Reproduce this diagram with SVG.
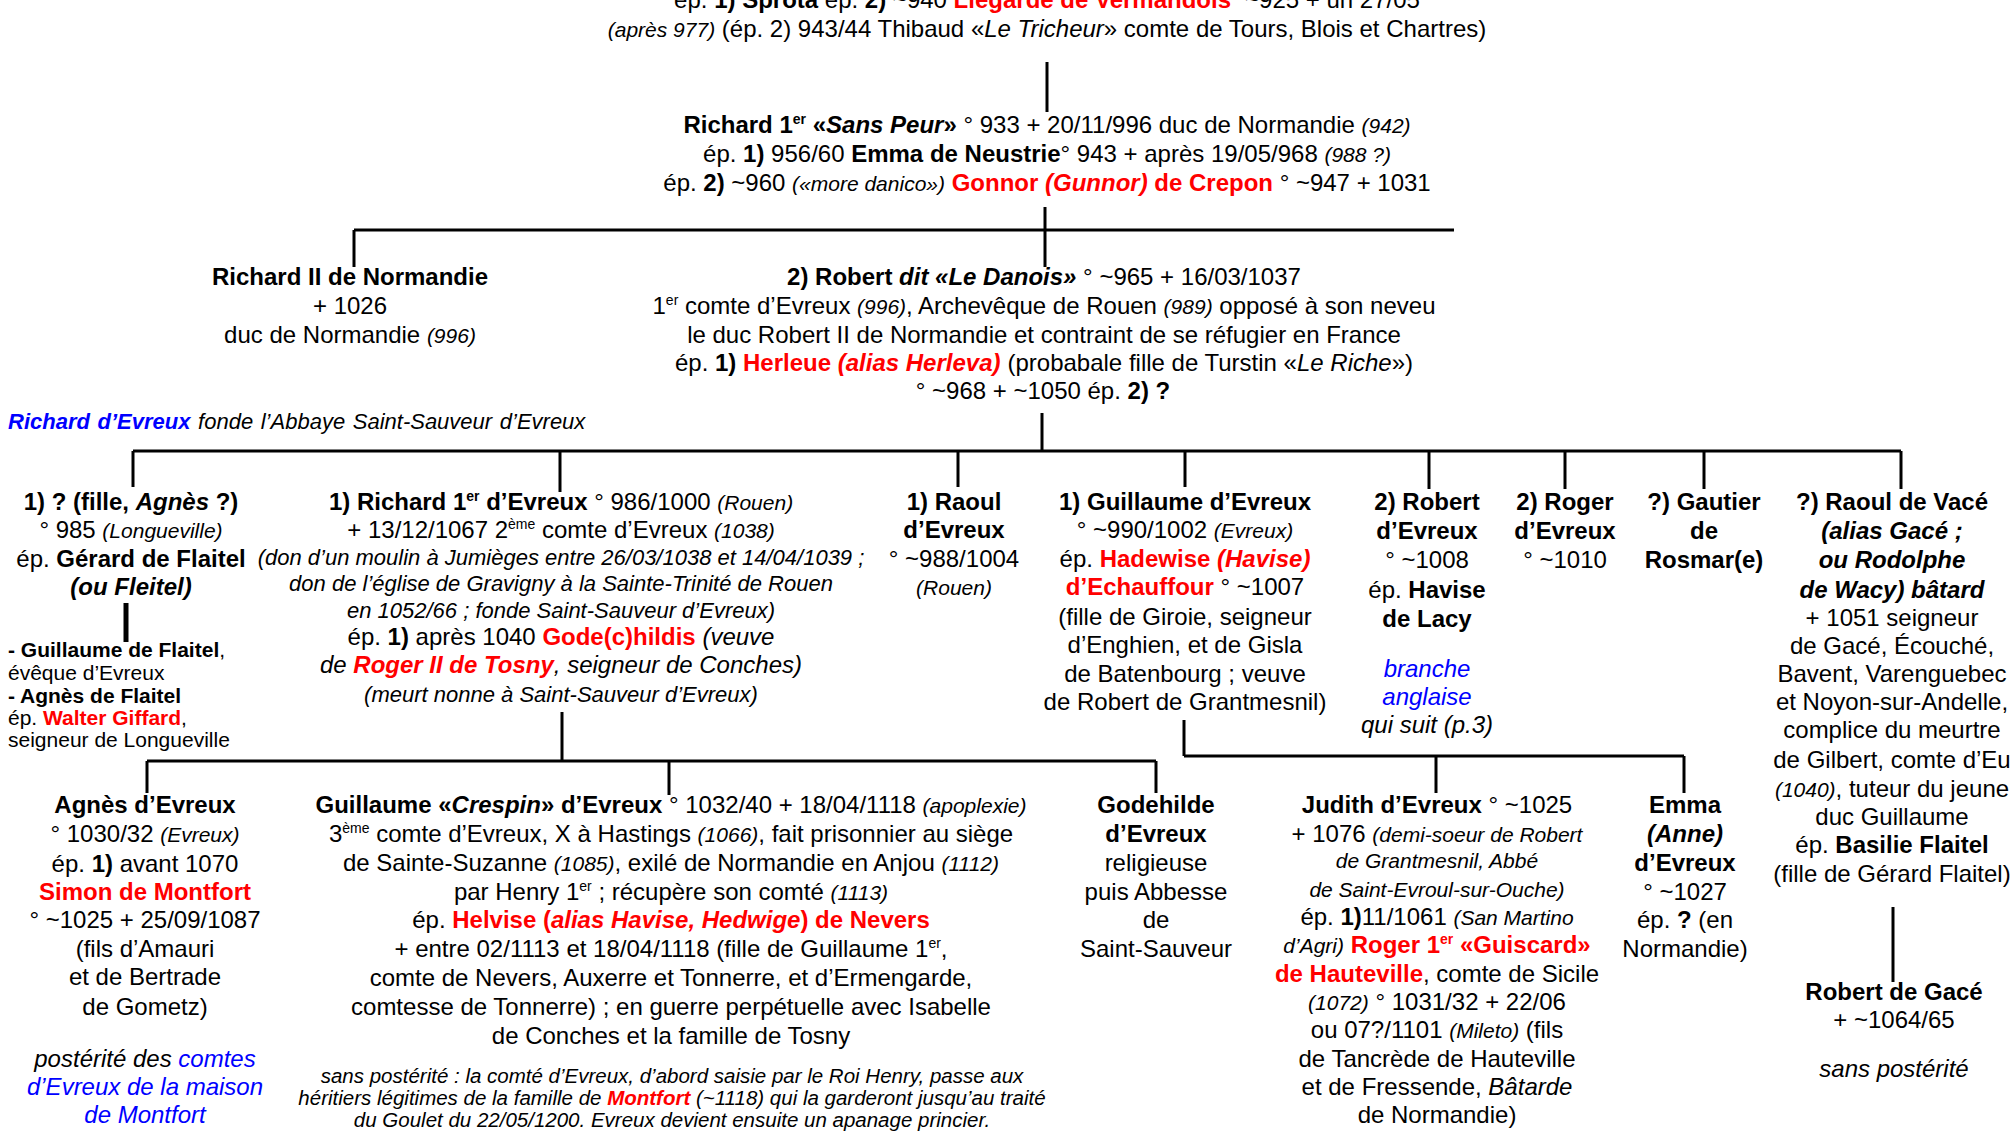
<svg xmlns="http://www.w3.org/2000/svg" width="2016" height="1134" viewBox="0 0 2016 1134">
<style>
text { font-family: "Liberation Sans", Arial, sans-serif; font-size: 24px; fill: #000; }
.m { text-anchor: middle; }
.b { font-weight: bold; }
.i { font-style: italic; }
.r { fill: #ff0000; }
.u { fill: #0000ff; }
.s { font-size: 21px; }
.x { font-size: 22px; }
.n { font-size: 20.5px; }
.p { font-size: 14px; }
.conn line { stroke: #000; stroke-width: 3; fill: none; }
</style>
<rect width="2016" height="1134" fill="#fff"/>

<g id="connectors" class="conn">
  <line x1="1047" y1="62" x2="1047" y2="112"/>
  <line x1="1045" y1="207" x2="1045" y2="267"/>
  <line x1="354" y1="230" x2="1454" y2="230"/>
  <line x1="354" y1="230" x2="354" y2="267"/>
  <line x1="1042" y1="413" x2="1042" y2="452"/>
  <line x1="133" y1="451" x2="1901" y2="451"/>
  <line x1="133" y1="451" x2="133" y2="487"/>
  <line x1="560" y1="451" x2="560" y2="492"/>
  <line x1="958" y1="451" x2="958" y2="487"/>
  <line x1="1185" y1="451" x2="1185" y2="487"/>
  <line x1="1429" y1="451" x2="1429" y2="489"/>
  <line x1="1565" y1="451" x2="1565" y2="489"/>
  <line x1="1704" y1="451" x2="1704" y2="489"/>
  <line x1="1901" y1="451" x2="1901" y2="489"/>
  <line x1="126" y1="603" x2="126" y2="642" style="stroke-width:5"/>
  <line x1="562" y1="712" x2="562" y2="761"/>
  <line x1="147" y1="761" x2="1156" y2="761"/>
  <line x1="147" y1="761" x2="147" y2="793"/>
  <line x1="669" y1="761" x2="669" y2="795"/>
  <line x1="1156" y1="761" x2="1156" y2="793"/>
  <line x1="1184" y1="720" x2="1184" y2="756"/>
  <line x1="1184" y1="756" x2="1684" y2="756"/>
  <line x1="1436" y1="756" x2="1436" y2="793"/>
  <line x1="1684" y1="756" x2="1684" y2="793"/>
  <line x1="1893" y1="907" x2="1893" y2="982"/>
</g>

<g id="parents-top">
  <text class="m" x="1047" y="8">ép. <tspan class="b">1) Sprota</tspan> ép. <tspan class="b">2)</tspan> ~940 <tspan class="b r">Liégarde de Vermandois</tspan><tspan dx="14">~925 + un 27/05</tspan></text>
  <text class="m" x="1047" y="37"><tspan class="i s">(après 977)</tspan> (ép. 2) 943/44 Thibaud «<tspan class="i">Le Tricheur</tspan>» comte de Tours, Blois et Chartres)</text>
</g>

<g id="richard1">
  <text class="m" x="1047" y="133"><tspan class="b">Richard 1<tspan class="p" dy="-9">er</tspan><tspan dy="9"> «</tspan><tspan class="i">Sans Peur</tspan>»</tspan> ° 933 + 20/11/996 duc de Normandie <tspan class="i s">(942)</tspan></text>
  <text class="m" x="1047" y="162">ép. <tspan class="b">1)</tspan> 956/60 <tspan class="b">Emma de Neustrie</tspan>° 943 + après 19/05/968 <tspan class="i s">(988 ?)</tspan></text>
  <text class="m" x="1047" y="191">ép. <tspan class="b">2)</tspan> ~960 <tspan class="i s">(«more danico»)</tspan> <tspan class="b r">Gonnor <tspan class="i">(Gunnor)</tspan> de Crepon</tspan> ° ~947 + 1031</text>
</g>

<g id="richard2">
  <text class="m b" x="350" y="285">Richard II de Normandie</text>
  <text class="m" x="350" y="314">+ 1026</text>
  <text class="m" x="350" y="343">duc de Normandie <tspan class="i s">(996)</tspan></text>
</g>

<g id="robert-danois">
  <text class="m" x="1044" y="285"><tspan class="b">2) Robert <tspan class="i">dit «Le Danois»</tspan></tspan> ° ~965 + 16/03/1037</text>
  <text class="m" x="1044" y="314">1<tspan class="p" dy="-9">er</tspan><tspan dy="9"> comte d’Evreux </tspan><tspan class="i s">(996)</tspan>, Archevêque de Rouen <tspan class="i s">(989)</tspan> opposé à son neveu</text>
  <text class="m" x="1044" y="343">le duc Robert II de Normandie et contraint de se réfugier en France</text>
  <text class="m" x="1044" y="371">ép. <tspan class="b">1)</tspan> <tspan class="b r">Herleue <tspan class="i">(alias Herleva)</tspan></tspan><tspan dx="7">(probabale fille de Turstin «</tspan><tspan class="i">Le Riche</tspan>»)</text>
  <text class="m" x="1043" y="399">° ~968 + ~1050 ép. <tspan class="b">2) ?</tspan></text>
</g>

<g id="note-abbaye">
  <text x="8" y="429" class="i" style="font-size:22px;word-spacing:1.5px"><tspan class="b u">Richard d’Evreux</tspan> fonde l’Abbaye Saint-Sauveur d’Evreux</text>
</g>

<g id="fille-agnes">
  <text class="m b" x="131" y="510">1) ? (fille, <tspan class="i">Agnès</tspan> ?)</text>
  <text class="m" x="131" y="538">° 985 <tspan class="i s">(Longueville)</tspan></text>
  <text class="m" x="131" y="567">ép. <tspan class="b">Gérard de Flaitel</tspan></text>
  <text class="m b i" x="131" y="595">(ou Fleitel)</text>
  <text x="8" y="657" style="font-size:21px"><tspan class="b">- Guillaume de Flaitel</tspan>,</text>
  <text x="8" y="680" style="font-size:21px">évêque d’Evreux</text>
  <text x="8" y="703" style="font-size:21px" class="b">- Agnès de Flaitel</text>
  <text x="8" y="725" style="font-size:21px">ép. <tspan class="b r">Walter Giffard</tspan>,</text>
  <text x="8" y="747" style="font-size:21px">seigneur de Longueville</text>
</g>

<g id="richard-evreux">
  <text class="m" x="561" y="510"><tspan class="b">1) Richard 1<tspan class="p" dy="-9">er</tspan><tspan dy="9"> d’Evreux</tspan></tspan> ° 986/1000 <tspan class="i s">(Rouen)</tspan></text>
  <text class="m" x="561" y="538">+ 13/12/1067 2<tspan class="p" dy="-9">ème</tspan><tspan dy="9"> comte d’Evreux </tspan><tspan class="i s">(1038)</tspan></text>
  <text class="m i x" x="561" y="565">(don d’un moulin à Jumièges entre 26/03/1038 et 14/04/1039 ;</text>
  <text class="m i x" x="561" y="591">don de l’église de Gravigny à la Sainte-Trinité de Rouen</text>
  <text class="m i x" x="561" y="618">en 1052/66 ; fonde Saint-Sauveur d’Evreux)</text>
  <text class="m" x="561" y="645">ép. <tspan class="b">1)</tspan> après 1040 <tspan class="b r">Gode(c)hildis</tspan> <tspan class="i">(veuve</tspan></text>
  <text class="m i" x="561" y="673">de <tspan class="b r">Roger II de Tosny</tspan>, seigneur de Conches)</text>
  <text class="m i x" x="561" y="702">(meurt nonne à Saint-Sauveur d’Evreux)</text>
</g>

<g id="raoul-evreux">
  <text class="m b" x="954" y="510">1) Raoul</text>
  <text class="m b" x="954" y="538">d’Evreux</text>
  <text class="m" x="954" y="567">° ~988/1004</text>
  <text class="m i s" x="954" y="595">(Rouen)</text>
</g>

<g id="guillaume-evreux">
  <text class="m b" x="1185" y="510">1) Guillaume d’Evreux</text>
  <text class="m" x="1185" y="538">° ~990/1002 <tspan class="i s">(Evreux)</tspan></text>
  <text class="m" x="1185" y="567">ép. <tspan class="b r">Hadewise <tspan class="i">(Havise)</tspan></tspan></text>
  <text class="m" x="1185" y="595"><tspan class="b r">d’Echauffour</tspan> ° ~1007</text>
  <text class="m" x="1185" y="625">(fille de Giroie, seigneur</text>
  <text class="m" x="1185" y="653">d’Enghien, et de Gisla</text>
  <text class="m" x="1185" y="682">de Batenbourg ; veuve</text>
  <text class="m" x="1185" y="710">de Robert de Grantmesnil)</text>
</g>

<g id="robert-evreux">
  <text class="m b" x="1427" y="510">2) Robert</text>
  <text class="m b" x="1427" y="539">d’Evreux</text>
  <text class="m" x="1427" y="568">° ~1008</text>
  <text class="m" x="1427" y="598">ép. <tspan class="b">Havise</tspan></text>
  <text class="m b" x="1427" y="627">de Lacy</text>
  <text class="m i u" x="1427" y="677">branche</text>
  <text class="m i u" x="1427" y="705">anglaise</text>
  <text class="m i" x="1427" y="733">qui suit (p.3)</text>
</g>

<g id="roger-evreux">
  <text class="m b" x="1565" y="510">2) Roger</text>
  <text class="m b" x="1565" y="539">d’Evreux</text>
  <text class="m" x="1565" y="568">° ~1010</text>
</g>

<g id="gautier">
  <text class="m b" x="1704" y="510">?) Gautier</text>
  <text class="m b" x="1704" y="539">de</text>
  <text class="m b" x="1704" y="568">Rosmar(e)</text>
</g>

<g id="raoul-vace">
  <text class="m b" x="1892" y="510">?) Raoul de Vacé</text>
  <text class="m b i" x="1892" y="539">(alias Gacé ;</text>
  <text class="m b i" x="1892" y="568">ou Rodolphe</text>
  <text class="m b i" x="1892" y="598">de Wacy) bâtard</text>
  <text class="m" x="1892" y="626">+ 1051 seigneur</text>
  <text class="m" x="1892" y="654">de Gacé, Écouché,</text>
  <text class="m" x="1892" y="682">Bavent, Varenguebec</text>
  <text class="m" x="1892" y="710">et Noyon-sur-Andelle,</text>
  <text class="m" x="1892" y="738">complice du meurtre</text>
  <text class="m" x="1892" y="768">de Gilbert, comte d’Eu</text>
  <text class="m" x="1892" y="797"><tspan class="i s">(1040)</tspan>, tuteur du jeune</text>
  <text class="m" x="1892" y="825">duc Guillaume</text>
  <text class="m" x="1892" y="853">ép. <tspan class="b">Basilie Flaitel</tspan></text>
  <text class="m" x="1892" y="882">(fille de Gérard Flaitel)</text>
</g>

<g id="robert-gace">
  <text class="m b" x="1894" y="1000">Robert de Gacé</text>
  <text class="m" x="1894" y="1028">+ ~1064/65</text>
  <text class="m i" x="1894" y="1077">sans postérité</text>
</g>

<g id="agnes-evreux">
  <text class="m b" x="145" y="813">Agnès d’Evreux</text>
  <text class="m" x="145" y="842">° 1030/32 <tspan class="i s">(Evreux)</tspan></text>
  <text class="m" x="145" y="872">ép. <tspan class="b">1)</tspan> avant 1070</text>
  <text class="m b r" x="145" y="900">Simon de Montfort</text>
  <text class="m" x="145" y="928">° ~1025 + 25/09/1087</text>
  <text class="m" x="145" y="957">(fils  d’Amauri</text>
  <text class="m" x="145" y="985">et de Bertrade</text>
  <text class="m" x="145" y="1015">de Gometz)</text>
  <text class="m i" x="145" y="1067">postérité des <tspan class="u">comtes</tspan></text>
  <text class="m i u" x="145" y="1095">d’Evreux de la maison</text>
  <text class="m i u" x="145" y="1123">de Montfort</text>
</g>

<g id="guillaume-crespin">
  <text class="m" x="671" y="813"><tspan class="b">Guillaume «<tspan class="i">Crespin</tspan>» d’Evreux</tspan> ° 1032/40 + 18/04/1118 <tspan class="i s">(apoplexie)</tspan></text>
  <text class="m" x="671" y="842">3<tspan class="p" dy="-9">ème</tspan><tspan dy="9"> comte d’Evreux, X à Hastings </tspan><tspan class="i s">(1066)</tspan>, fait prisonnier au siège</text>
  <text class="m" x="671" y="871">de Sainte-Suzanne <tspan class="i s">(1085)</tspan>, exilé de Normandie en Anjou <tspan class="i s">(1112)</tspan></text>
  <text class="m" x="671" y="900">par Henry 1<tspan class="p" dy="-9">er</tspan><tspan dy="9"> ; récupère son comté </tspan><tspan class="i s">(1113)</tspan></text>
  <text class="m" x="671" y="928">ép. <tspan class="b r">Helvise (<tspan class="i">alias Havise, Hedwige</tspan>) de Nevers</tspan></text>
  <text class="m" x="671" y="957">+ entre 02/1113 et 18/04/1118 (fille de Guillaume 1<tspan class="p" dy="-9">er</tspan><tspan dy="9">,</tspan></text>
  <text class="m" x="671" y="986">comte de Nevers, Auxerre et Tonnerre, et d’Ermengarde,</text>
  <text class="m" x="671" y="1015">comtesse de Tonnerre) ; en guerre perpétuelle avec Isabelle</text>
  <text class="m" x="671" y="1044">de Conches et la famille de Tosny</text>
  <text class="m i n" x="672" y="1083">sans postérité : la comté d’Evreux, d’abord saisie par le Roi Henry, passe aux</text>
  <text class="m i n" x="672" y="1105">héritiers légitimes de la famille de <tspan class="b r">Montfort</tspan> (~1118) qui la garderont jusqu’au traité</text>
  <text class="m i n" x="672" y="1127">du Goulet du 22/05/1200. Evreux devient ensuite un apanage princier.</text>
</g>

<g id="godehilde">
  <text class="m b" x="1156" y="813">Godehilde</text>
  <text class="m b" x="1156" y="842">d’Evreux</text>
  <text class="m" x="1156" y="871">religieuse</text>
  <text class="m" x="1156" y="900">puis Abbesse</text>
  <text class="m" x="1156" y="928">de</text>
  <text class="m" x="1156" y="957">Saint-Sauveur</text>
</g>

<g id="judith">
  <text class="m" x="1437" y="813"><tspan class="b">Judith d’Evreux</tspan> ° ~1025</text>
  <text class="m" x="1437" y="842">+ 1076 <tspan class="i s">(demi-soeur de Robert</tspan></text>
  <text class="m i s" x="1437" y="868">de Grantmesnil, Abbé</text>
  <text class="m i s" x="1437" y="897">de Saint-Evroul-sur-Ouche)</text>
  <text class="m" x="1437" y="925">ép. <tspan class="b">1)</tspan>11/1061 <tspan class="i s">(San Martino</tspan></text>
  <text class="m" x="1437" y="953"><tspan class="i s">d’Agri)</tspan> <tspan class="b r">Roger 1<tspan class="p" dy="-9">er</tspan><tspan dy="9"> «Guiscard»</tspan></tspan></text>
  <text class="m" x="1437" y="982"><tspan class="b r">de Hauteville</tspan>, comte de Sicile</text>
  <text class="m" x="1437" y="1010"><tspan class="i s">(1072)</tspan> ° 1031/32 + 22/06</text>
  <text class="m" x="1437" y="1038">ou 07?/1101 <tspan class="i s">(Mileto)</tspan> (fils</text>
  <text class="m" x="1437" y="1067">de Tancrède de Hauteville</text>
  <text class="m" x="1437" y="1095">et de Fressende, <tspan class="i">Bâtarde</tspan></text>
  <text class="m" x="1437" y="1123">de Normandie)</text>
</g>

<g id="emma">
  <text class="m b" x="1685" y="813">Emma</text>
  <text class="m b i" x="1685" y="842">(Anne)</text>
  <text class="m b" x="1685" y="871">d’Evreux</text>
  <text class="m" x="1685" y="900">° ~1027</text>
  <text class="m" x="1685" y="928">ép. <tspan class="b">?</tspan> (en</text>
  <text class="m" x="1685" y="957">Normandie)</text>
</g>
</svg>
